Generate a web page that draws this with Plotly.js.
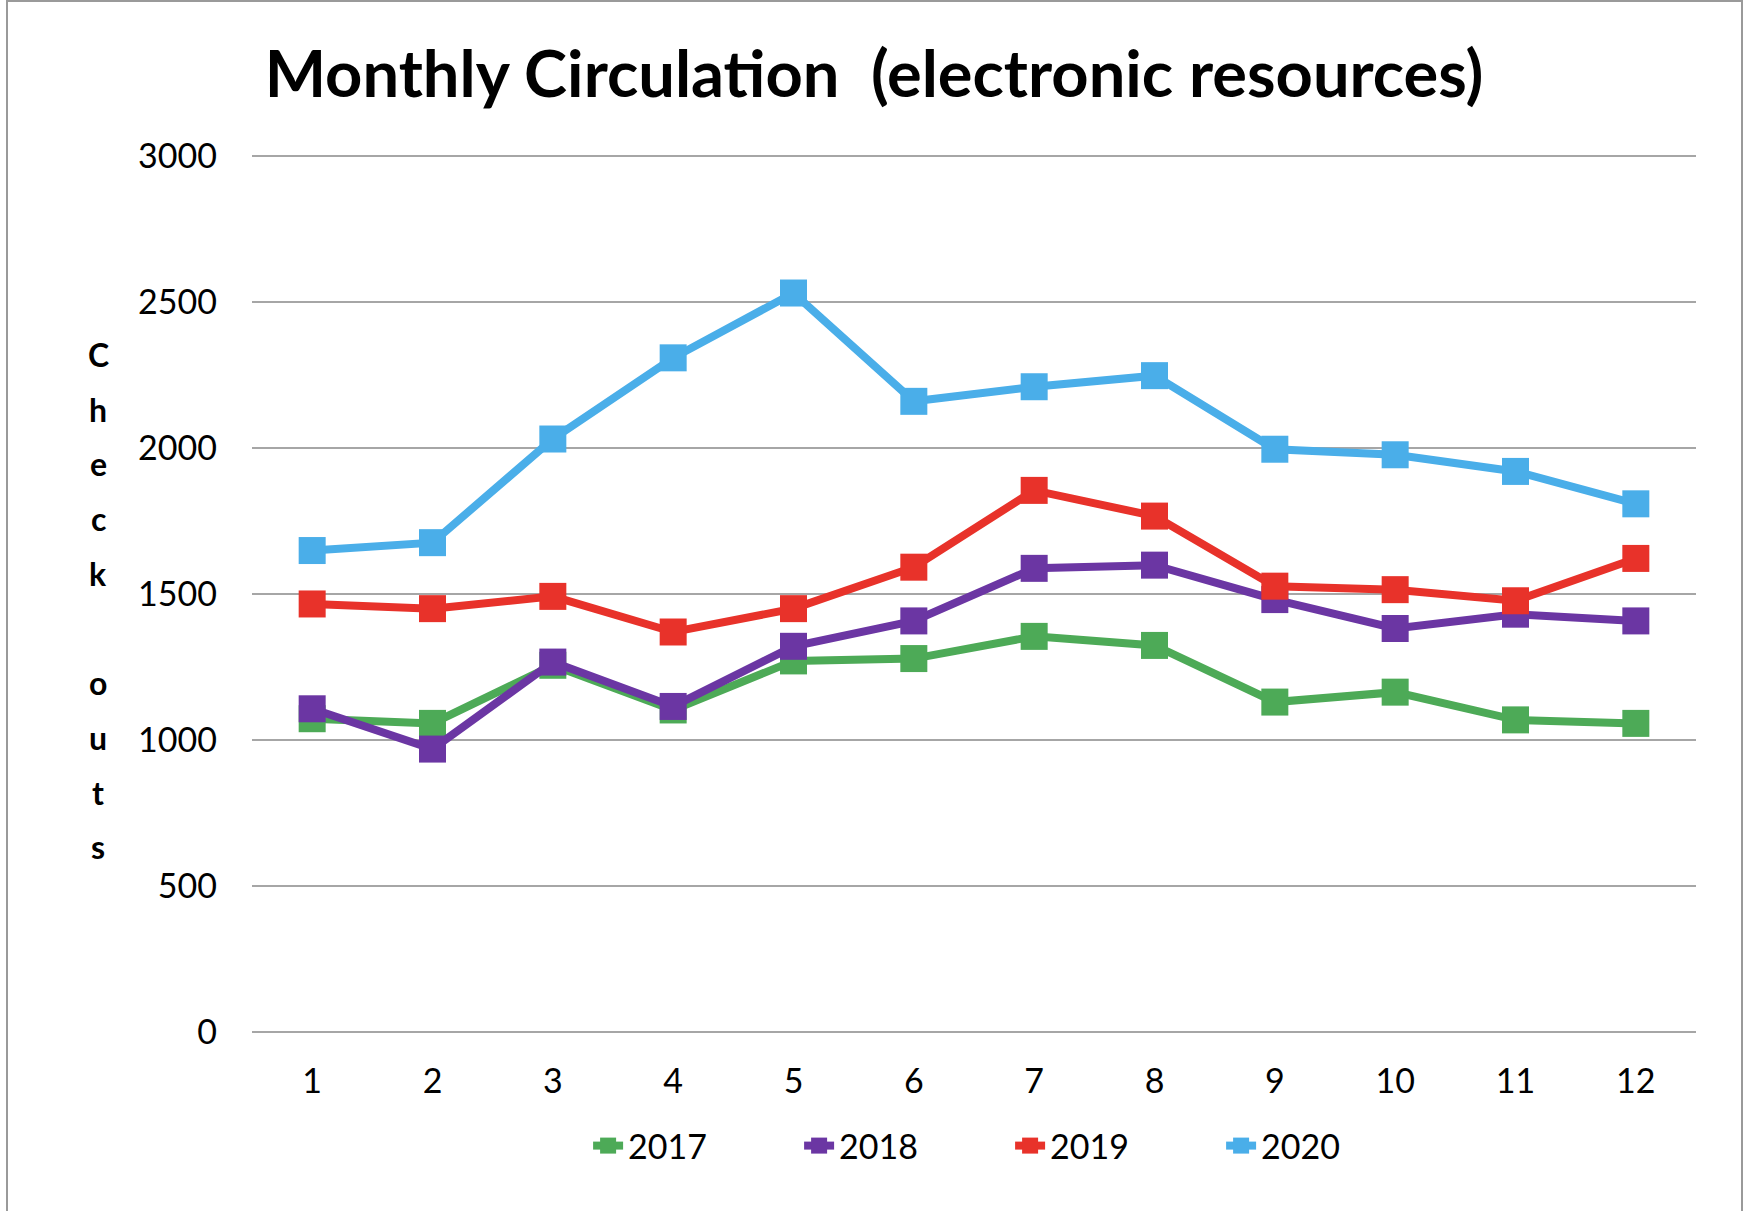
<!DOCTYPE html>
<html>
<head>
<meta charset="utf-8">
<script src="https://cdn.plot.ly/plotly-3.0.1.min.js"></script>
<style>
  html, body { margin: 0; padding: 0; background: #fff; }
  #wrap { position: relative; width: 1748px; height: 1211px; }
  #chart { width: 1748px; height: 1211px; }
  #frame { position: absolute; left: 6px; top: 0px; width: 1737px; height: 1230px;
           border: 2px solid #9a9a9a; border-bottom: none; pointer-events: none; box-sizing: border-box; }
</style>
</head>
<body>
<div id="wrap">
  <div id="chart"></div>
  <div id="frame"></div>
</div>
<script>
const months = ['1','2','3','4','5','6','7','8','9','10','11','12'];
const years = ['2017','2018','2019','2020'];
const v2017 = [1073, 1057, 1256, 1103, 1271, 1279, 1355, 1324, 1130, 1164, 1069, 1057];
const v2018 = [1107, 969, 1267, 1115, 1321, 1408, 1588, 1599, 1481, 1382, 1431, 1408];
const v2019 = [1466, 1450, 1492, 1370, 1450, 1592, 1855, 1767, 1527, 1515, 1477, 1622];
const v2020 = [1649, 1676, 2031, 2309, 2531, 2160, 2210, 2248, 1996, 1977, 1920, 1809];
const yTicks = [0, 500, 1000, 1500, 2000, 2500, 3000];
const titleText = 'Monthly Circulation&nbsp;&nbsp;(electronic resources)';
const yLabel = 'Check outs';

const colors = ['#4daa57', '#6b36a3', '#e8322a', '#4aaee9'];
const series = [v2017, v2018, v2019, v2020];

const FONT = 'Lato, "Open Sans", sans-serif';

const traces = series.map((vals, i) => ({
  type: 'scatter',
  mode: 'lines+markers',
  name: years[i],
  x: months,
  y: vals,
  line: { color: colors[i], width: 8 },
  marker: { symbol: 'square', size: 27, color: colors[i] },
  hoverinfo: 'x+y+name'
}));

// vertical stacked axis label letters
const W = 1748, H = 1211, ml = 252, mr = 52, mt = 152, mb = 179;
const pw = W - ml - mr, ph = H - mt - mb;
const letters = yLabel.split('');
const annotations = letters.map((ch, i) => ({
  xref: 'paper', yref: 'paper',
  x: (98 - ml) / pw,
  y: (H - mb - (354.5 + i * 54.7)) / ph,
  xanchor: 'center', yanchor: 'middle',
  text: ch === ' ' ? '' : ch,
  showarrow: false,
  font: { family: FONT, size: 32, color: '#000', weight: 'bold' }
}));

const layout = {
  width: W, height: H,
  margin: { l: ml, r: mr, t: mt, b: mb, pad: 0 },
  paper_bgcolor: '#fff',
  plot_bgcolor: '#fff',
  showlegend: true,
  title: {
    text: titleText,
    x: 0.5, xanchor: 'center',
    y: 1 - 74 / H, yanchor: 'middle', yref: 'container',
    font: { family: FONT, size: 65, color: '#000', weight: 'bold' }
  },
  xaxis: {
    type: 'category',
    range: [-0.5, 11.5],
    showgrid: false,
    zeroline: false,
    showline: false,
    ticks: '',
    ticklabelstandoff: 26,
    tickfont: { family: FONT, size: 34, color: '#000' },
    fixedrange: true
  },
  yaxis: {
    range: [0, 3014],
    tickvals: yTicks,
    ticktext: yTicks.map(String),
    showgrid: true,
    gridcolor: '#a6a6a6',
    gridwidth: 2.2,
    zeroline: true,
    zerolinecolor: '#a6a6a6',
    zerolinewidth: 2.2,
    showline: false,
    ticks: '',
    ticklabelstandoff: 34,
    tickfont: { family: FONT, size: 34, color: '#000' },
    fixedrange: true
  },
  legend: {
    orientation: 'h',
    x: 0.525, xanchor: 'center',
    y: (H - mb - 1146) / ph, yanchor: 'middle',
    font: { family: FONT, size: 34, color: '#000' },
    entrywidth: 166,
    entrywidthmode: 'pixels',
    itemsizing: 'trace',
    bgcolor: 'rgba(0,0,0,0)'
  },
  annotations: annotations
};

Plotly.newPlot('chart', traces, layout, { displayModeBar: false, staticPlot: true });
</script>
</body>
</html>
